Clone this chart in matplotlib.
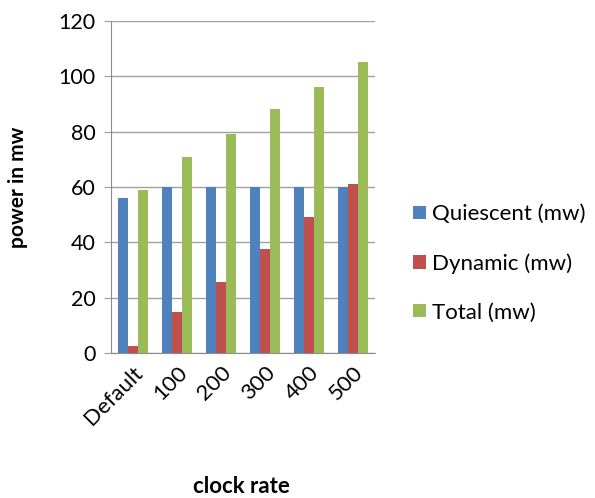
import numpy as np
import matplotlib.pyplot as plt

# values
categories = ['Default', '100', '200', '300', '400', '500']
quiescent = [56, 60, 60, 60, 60, 60]
dynamic = [2.6, 15, 25.5, 37.7, 49, 61]
total = [59, 71, 79, 88.3, 96, 105]

series = [('Quiescent (mw)', quiescent, '#4f81bd'),
          ('Dynamic (mw)', dynamic, '#c0504d'),
          ('Total (mw)', total, '#9bbb59')]

plt.rcParams['font.family'] = ['Lato', 'DejaVu Sans']

fig = plt.figure(figsize=(5.95, 4.98), dpi=100)
ax = fig.add_axes([0.1866, 0.291, 0.4434, 0.667])

x = np.arange(len(categories))
w = 1 / 4.5
for i, (name, vals, col) in enumerate(series):
    ax.bar(x + (i - 1) * w, vals, w, color=col, label=name, zorder=3)

ax.set_xlim(-0.5, len(categories) - 0.5)
ax.set_ylim(0, 120)
ax.set_yticks(range(0, 121, 20))
ax.yaxis.grid(True, color='#a0a0a0', linewidth=1, zorder=0)
for s in ['top', 'right']:
    ax.spines[s].set_visible(False)
for s in ['left', 'bottom']:
    ax.spines[s].set_color('#8c8c8c')
ax.tick_params(axis='y', length=5, color='#a0a0a0', labelsize=15.5, pad=6)
ax.tick_params(axis='x', length=0, labelsize=16, pad=7)
ax.set_xticks(x)
ax.set_xticklabels(categories, rotation=45, ha='right', rotation_mode='anchor')

ax.set_ylabel('power in mw', fontsize=15, fontweight='bold', labelpad=22)
fig.text(0.405, 0.01, 'clock rate', fontsize=16, fontweight='bold', ha='center')

ax.legend(loc='center left', bbox_to_anchor=(1.07, 0.27), frameon=False,
          fontsize=16, handlelength=0.55, handleheight=0.55, labelspacing=1.3,
          handletextpad=0.3)

fig.savefig('out.png', dpi=100)
